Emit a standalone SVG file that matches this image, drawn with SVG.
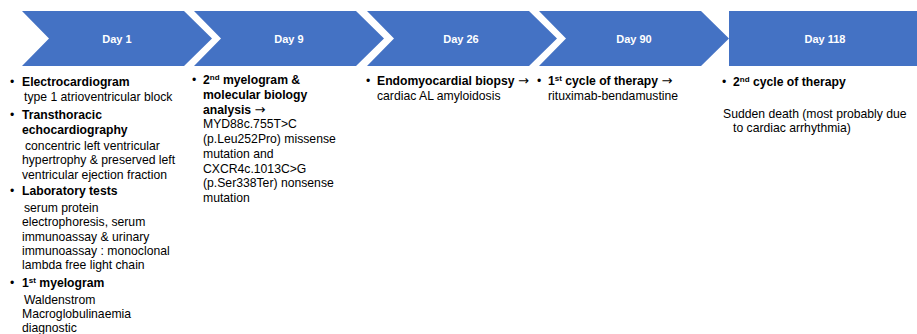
<svg xmlns="http://www.w3.org/2000/svg" width="917" height="334" viewBox="0 0 917 334">
<style>
.shape{fill:#4472C4;}
.day{font-family:"Liberation Sans",Arial,sans-serif;font-size:11px;font-weight:bold;fill:#ffffff;text-anchor:middle;}
.t{font-family:"Liberation Sans",Arial,sans-serif;font-size:12.2px;fill:#000000;}
.b{font-weight:bold;}
.sup{font-size:8px;}
.arr{font-family:"DejaVu Sans",sans-serif;font-size:13px;font-weight:normal;}
</style>
<rect width="917" height="334" fill="#ffffff"/>
<g id="day1">
<polygon class="shape" points="22,11 184,11 212,38.5 184,66 22,66 49,38.5"/>
<text class="day" x="117" y="42.5">Day 1</text>
</g>
<g id="day9">
<polygon class="shape" points="194,11 356,11 384,38.5 356,66 194,66 221,38.5"/>
<text class="day" x="289" y="42.5">Day 9</text>
</g>
<g id="day26">
<polygon class="shape" points="367,11 529,11 557,38.5 529,66 367,66 394,38.5"/>
<text class="day" x="461" y="42.5">Day 26</text>
</g>
<g id="day90">
<polygon class="shape" points="539,11 701,11 729,38.5 701,66 539,66 566,38.5"/>
<text class="day" x="634" y="42.5">Day 90</text>
</g>
<g id="day118">
<rect class="shape" x="729" y="11" width="188" height="55"/>
<text class="day" x="825" y="42.5">Day 118</text>
</g>
<g id="connectors"></g>
<g id="col1" class="t">
<text x="10" y="85.5">•</text>
<text x="22" y="85.5" class="b">Electrocardiogram</text>
<text x="24" y="100.5">type 1 atrioventricular block</text>
<text x="10" y="118.5">•</text>
<text x="22" y="118.5" class="b">Transthoracic</text>
<text x="22" y="133.5" class="b">echocardiography</text>
<text x="25" y="149.5">concentric left ventricular</text>
<text x="22" y="164">hypertrophy &amp; preserved left</text>
<text x="22" y="178.5">ventricular ejection fraction</text>
<text x="10" y="194.5">•</text>
<text x="22" y="194.5" class="b">Laboratory tests</text>
<text x="24" y="211.5">serum protein</text>
<text x="22" y="226">electrophoresis, serum</text>
<text x="22" y="240.5">immunoassay &amp; urinary</text>
<text x="22" y="255">immunoassay : monoclonal</text>
<text x="22" y="269">lambda free light chain</text>
<text x="10" y="287">•</text>
<text x="22" y="287" class="b">1<tspan class="sup" dy="-4">st</tspan><tspan dy="4"> myelogram</tspan></text>
<text x="24" y="303.5">Waldenstrom</text>
<text x="22" y="318">Macroglobulinaemia</text>
<text x="22" y="332">diagnostic</text>
</g>
<g id="col2" class="t">
<text x="192" y="84">•</text>
<text x="203" y="84" class="b">2<tspan class="sup" dy="-4">nd</tspan><tspan dy="4"> myelogram &amp;</tspan></text>
<text x="203" y="98.8" class="b">molecular biology</text>
<text x="203" y="113.5" class="b">analysis <tspan class="arr">→</tspan></text>
<text x="203" y="128.3">MYD88c.755T&gt;C</text>
<text x="203" y="143">(p.Leu252Pro) missense</text>
<text x="203" y="157.8">mutation and</text>
<text x="203" y="172.5">CXCR4c.1013C&gt;G</text>
<text x="203" y="187.3">(p.Ser338Ter) nonsense</text>
<text x="203" y="202">mutation</text>
</g>
<g id="col3" class="t">
<text x="366" y="84.5">•</text>
<text x="377" y="84.5" class="b">Endomyocardial biopsy <tspan class="arr">→</tspan></text>
<text x="377" y="100">cardiac AL amyloidosis</text>
</g>
<g id="col4" class="t">
<text x="537" y="84.5">•</text>
<text x="548" y="84.5" class="b">1<tspan class="sup" dy="-4">st</tspan><tspan dy="4"> cycle of therapy </tspan><tspan class="arr">→</tspan></text>
<text x="548" y="100">rituximab-bendamustine</text>
</g>
<g id="col5" class="t">
<text x="722" y="85.5">•</text>
<text x="733" y="85.5" class="b">2<tspan class="sup" dy="-4">nd</tspan><tspan dy="4"> cycle of therapy</tspan></text>
<text x="723" y="117.5">Sudden death (most probably due</text>
<text x="733" y="132">to cardiac arrhythmia)</text>
</g>
</svg>
